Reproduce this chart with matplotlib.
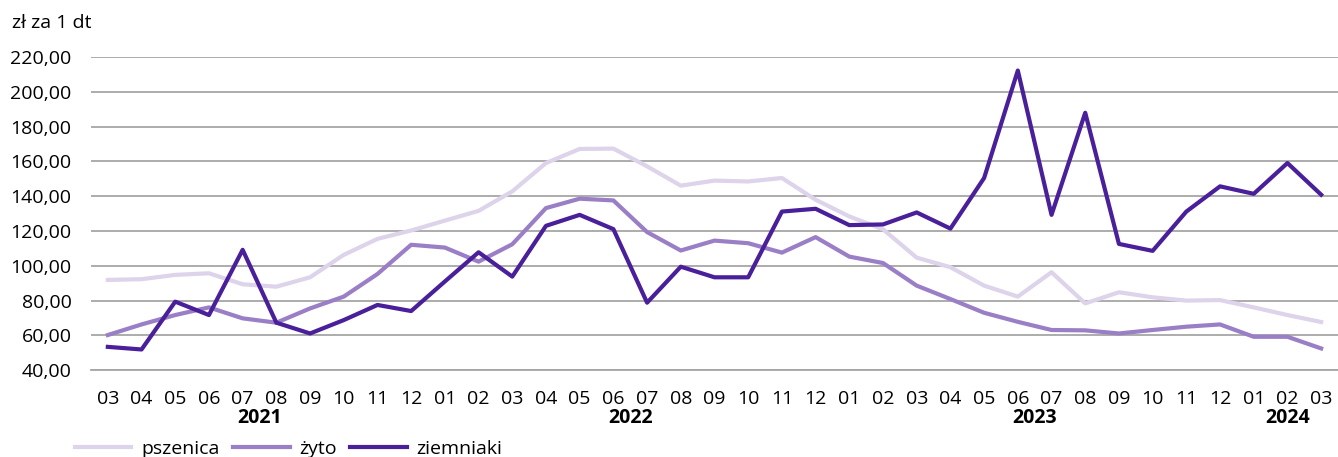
import matplotlib.pyplot as plt
from matplotlib.ticker import FuncFormatter

months = ["03", "04", "05", "06", "07", "08", "09", "10", "11", "12",
          "01", "02", "03", "04", "05", "06", "07", "08", "09", "10", "11", "12",
          "01", "02", "03", "04", "05", "06", "07", "08", "09", "10", "11", "12",
          "01", "02", "03"]
years = ["2021", "2022", "2023", "2024"]
year_centers = [4.5, 15.5, 27.5, 35]

pszenica = [91.9, 92.3, 94.8, 95.7, 89.4, 88.0, 93.4, 106.3, 115.5, 120.3,
            126.0, 131.6, 142.8, 159.1, 167.2, 167.4, 157.2, 146.1, 149.0, 148.5, 150.5, 138.0,
            128.4, 121.0, 104.7, 99.2, 88.6, 82.3, 96.3, 78.4, 84.8, 81.9, 80.0, 80.3,
            76.1, 71.7, 67.7]
zyto = [60.2, 66.3, 71.7, 76.1, 69.8, 67.3, 75.5, 82.3, 95.3, 112.1,
        110.5, 102.4, 112.4, 133.2, 138.6, 137.6, 119.4, 108.8, 114.5, 113.0, 107.6, 116.5,
        105.3, 101.6, 88.6, 80.9, 73.0, 67.8, 63.1, 62.9, 61.1, 63.1, 65.0, 66.3,
        59.2, 59.2, 52.5]
ziemniaki = [53.4, 51.9, 79.4, 71.7, 109.2, 67.3, 61.1, 68.8, 77.5, 74.0,
             91.0, 107.8, 93.8, 123.0, 129.3, 121.1, 78.8, 99.5, 93.4, 93.4, 131.2, 132.8,
             123.4, 123.8, 130.7, 121.4, 150.5, 212.3, 129.3, 188.0, 112.6, 108.6, 131.2, 145.7,
             141.4, 159.1, 140.9]

plt.rcParams['font.family'] = ['Open Sans', 'DejaVu Sans']
FS = 14

fig = plt.figure(figsize=(13.38, 4.57), dpi=100)
ax = fig.add_axes([0.068, 0.19, 0.932, 0.685])

x = range(len(months))
ax.plot(x, pszenica, color="#DDD3EA", lw=3, label="pszenica")
ax.plot(x, zyto, color="#9A7EC6", lw=3, label="żyto")
ax.plot(x, ziemniaki, color="#4A1F9A", lw=3, label="ziemniaki")

ax.set_xlim(-0.5, len(months) - 0.5)
ax.set_ylim(40, 220)
ax.set_yticks(range(40, 221, 20))
ax.yaxis.set_major_formatter(FuncFormatter(lambda v, p: f"{v:.2f}".replace(".", ",")))
ax.grid(axis="y", color="#A6A6A6", lw=1.3)
ax.set_axisbelow(True)
for s in ["top", "right", "left"]:
    ax.spines[s].set_visible(False)
ax.spines["bottom"].set_color("#A6A6A6")
ax.spines["bottom"].set_linewidth(1.3)

ax.set_xticks(list(x))
ax.set_xticklabels(months)
ax.tick_params(axis="both", length=0, labelsize=FS, colors="black")
ax.tick_params(axis="x", pad=14)
ax.tick_params(axis="y", pad=14)

for yr, c in zip(years, year_centers):
    ax.text(c, -0.153, yr, transform=ax.get_xaxis_transform(), ha="center", va="center",
            fontsize=FS, fontweight="bold")

fig.text(0.009, 0.95, "zł za 1 dt", fontsize=FS, va="center")

fig.legend(loc="lower left", bbox_to_anchor=(0.043, -0.04), ncol=3, frameon=False,
           fontsize=FS, handlelength=2.9, columnspacing=0.7, handletextpad=0.5)

fig.savefig("out.png", dpi=100)
